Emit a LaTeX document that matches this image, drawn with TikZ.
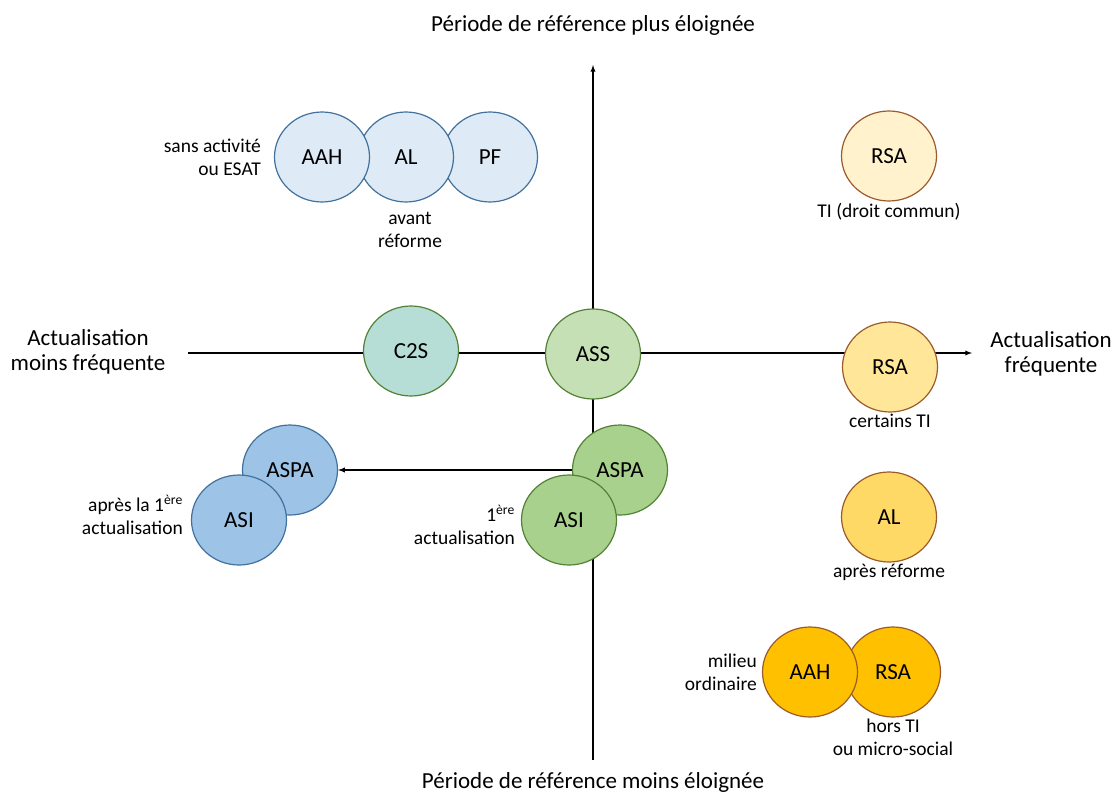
\documentclass[tikz,border=0pt]{standalone}
\usepackage{fontspec}
\setmainfont{Carlito}
\usetikzlibrary{shapes.geometric, arrows, positioning}

\definecolor{bleupale}{HTML}{DEEBF7}
\definecolor{bleumoyen}{HTML}{9DC3E6}
\definecolor{bleutrait}{HTML}{41719C}
\definecolor{vertpale}{HTML}{C5E0B4}
\definecolor{vertmoyen}{HTML}{A9D18E}
\definecolor{verteau}{HTML}{B7DED6}
\definecolor{verttrait}{HTML}{538135}
\definecolor{jaunepale}{HTML}{FFF2CC}
\definecolor{jaunemoyen}{HTML}{FFE699}
\definecolor{jaunefort}{HTML}{FFD966}
\definecolor{orangefort}{HTML}{FFC000}
\definecolor{bruntrait}{HTML}{9C5B2B}

\begin{document}
\begin{tikzpicture}[x=1pt, y=-1pt]
\useasboundingbox (0,0) rectangle (1115,792);
% Styles
\tikzstyle{rond} = [ellipse, minimum width=95pt, minimum height=90pt, inner sep=0pt, line width=1.2pt, text centered, font=\fontsize{23}{26}\selectfont]
\tikzstyle{bleu} = [rond, draw=bleutrait, fill=bleupale]
\tikzstyle{bleufonce} = [rond, draw=bleutrait, fill=bleumoyen]
\tikzstyle{vert} = [rond, draw=verttrait, fill=vertpale]
\tikzstyle{vertfonce} = [rond, draw=verttrait, fill=vertmoyen]
\tikzstyle{eau} = [rond, draw=verttrait, fill=verteau]
\tikzstyle{jaune} = [rond, draw=bruntrait]
\tikzstyle{note} = [align=center, inner sep=1pt, font=\fontsize{19.5}{23}\selectfont]
\tikzstyle{notegauche} = [note, align=right, anchor=east]
\tikzstyle{titre} = [align=center, inner sep=1pt, font=\fontsize{23}{25}\selectfont]
\tikzstyle{arrow} = [line width=1.3pt,->,>=latex]

% Axes
\coordinate (haut) at (593,65);
\coordinate (bas) at (593,760);
\coordinate (gauche) at (188,353);
\coordinate (droite) at (972,353);
\draw [arrow] (bas) -- (haut);
\draw [arrow] (gauche) -- (droite);

\node (plus_eloignee) [titre] at (593,25) {Période de référence plus éloignée};
\node (moins_eloignee) [titre] at (593,782) {Période de référence moins éloignée};
\node (moins_frequente) [titre] at (88,352) {Actualisation\\moins fréquente};
\node (frequente) [titre] at (1051,354) {Actualisation\\fréquente};

% Nodes
\node (pf) [bleu] at (490,157) {PF};
\node (al_avant) [bleu] at (406,157) {AL};
\node (aah_esat) [bleu] at (322,157) {AAH};
\node (sans_activite) [notegauche] at (262,157) {sans activité\\ou ESAT};
\node (avant_reforme) [note] at (410,230) {avant\\réforme};

\node (c2s) [eau] at (411,351) {C2S};
\node (ass) [vert] at (593,354) {ASS};

\node (aspa_vert) [vertfonce] at (620,470) {ASPA};
\node (asi_vert) [vertfonce] at (569,520) {ASI};
\node (premiere) [notegauche] at (516,525) {1\textsuperscript{ère}\\actualisation};

\node (aspa_bleu) [bleufonce] at (290,470) {ASPA};
\node (asi_bleu) [bleufonce] at (239,520) {ASI};
\node (apres_premiere) [notegauche] at (184,515) {après la 1\textsuperscript{ère}\\actualisation};

\node (rsa_ti) [jaune, fill=jaunepale] at (889,156) {RSA};
\node (droit_commun) [note, below=0pt of rsa_ti] {TI (droit commun)};
\node (rsa_certains) [jaune, fill=jaunemoyen] at (890,367) {RSA};
\node (certains_ti) [note, below=0pt of rsa_certains] {certains TI};
\node (al_apres) [jaune, fill=jaunefort] at (889,517) {AL};
\node (apres_reforme) [note, below=0pt of al_apres] {après réforme};

\node (rsa_hors) [jaune, fill=orangefort] at (893,672) {RSA};
\node (aah_ordinaire) [jaune, fill=orangefort] at (810,672) {AAH};
\node (milieu) [notegauche] at (758,672) {milieu\\ordinaire};
\node (hors_ti) [note, below=0pt of rsa_hors] {hors TI\\ou micro-social};

% Arrows
\draw [arrow] (aspa_vert.west) -- (aspa_bleu.east);
\end{tikzpicture}
\end{document}
